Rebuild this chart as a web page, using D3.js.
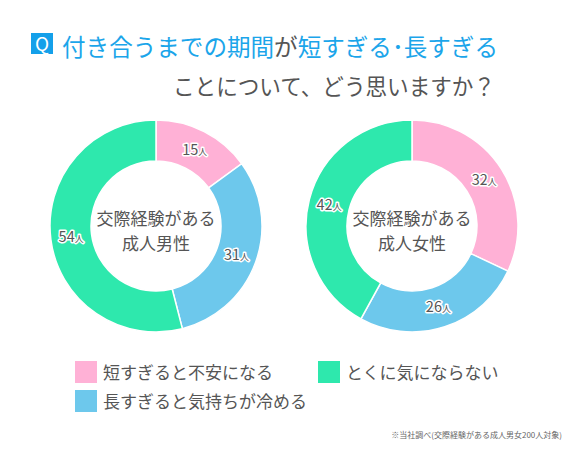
<!DOCTYPE html>
<html><head><meta charset="utf-8">
<script src="https://cdn.jsdelivr.net/npm/d3@7"></script>
<style>body{margin:0;background:#fff}svg{display:block}text{font-family:"Noto Sans CJK JP","Noto Sans",sans-serif}</style>
</head><body>
<svg id="c" width="569" height="450"></svg>
<script>
const categories = ["短すぎると不安になる","長すぎると気持ちが冷める","とくに気にならない"];
const colors = ["#FFB1D6","#6DC8EC","#2EE8AD"];
const maleValues = [15,31,54];
const femaleValues = [32,26,42];
const centerLabels = [["交際経験がある","成人男性"],["交際経験がある","成人女性"]];
const unit = "人";

const svg = d3.select("#c");
const gray = "#555";

// Title
svg.append("rect").attr("x",31).attr("y",33).attr("width",22).attr("height",21).attr("fill","#14A0EA");
svg.append("text").attr("x",42).attr("y",50.5).attr("text-anchor","middle").attr("fill","#fff")
  .attr("font-size",19).text("Q");
const t1 = svg.append("text").attr("x",62).attr("y",56).attr("font-size",23.5)
  .attr("textLength",436).attr("lengthAdjust","spacingAndGlyphs");
t1.append("tspan").attr("fill","#1BA5EA").text("付き合うまでの期間");
t1.append("tspan").attr("fill",gray).text("が");
t1.append("tspan").attr("fill","#1BA5EA").text("短すぎる･長すぎる");
svg.append("text").attr("x",173).attr("y",95).attr("font-size",22.5)
  .attr("textLength",322).attr("lengthAdjust","spacingAndGlyphs")
  .attr("fill",gray).text("ことについて、どう思いますか？");

const pie = d3.pie().sort(null).value(d=>d);
const arc = d3.arc().innerRadius(65).outerRadius(106);

function donut(cx, cy, values, lbl){
  const g = svg.append("g").attr("transform",`translate(${cx},${cy})`);
  const arcs = pie(values);
  g.selectAll("path").data(arcs).join("path")
    .attr("d",arc).attr("fill",(d,i)=>colors[i]).attr("stroke","#fff").attr("stroke-width",1.5);
  const lab = g.selectAll("text.v").data(arcs).join("text").attr("class","v")
    .attr("transform",d=>{const c=arc.centroid(d);return `translate(${c[0]},${c[1]+5})`;})
    .attr("text-anchor","middle").attr("fill",gray)
    .attr("stroke","#fff").attr("stroke-width",3).attr("paint-order","stroke").attr("stroke-linejoin","round");
  lab.append("tspan").attr("font-size",14.5).text(d=>d.data);
  lab.append("tspan").attr("font-size",9).text(unit);
  g.append("text").attr("y",-1).attr("text-anchor","middle").attr("font-size",17).attr("fill",gray).text(lbl[0]);
  g.append("text").attr("y",24).attr("text-anchor","middle").attr("font-size",17).attr("fill",gray).text(lbl[1]);
}
donut(156,226,maleValues,centerLabels[0]);
donut(412,226,femaleValues,centerLabels[1]);

// Legend
const legendPos = [[75,361],[75,390],[318,361]];
categories.forEach((c,i)=>{
  const [x,y]=legendPos[i];
  svg.append("rect").attr("x",x).attr("y",y).attr("width",22).attr("height",22).attr("fill",colors[i]);
  svg.append("text").attr("x",x+28).attr("y",y+17.5).attr("font-size",17).attr("fill",gray).text(c);
});

svg.append("text").attr("x",562).attr("y",438).attr("font-size",8).attr("text-anchor","end")
  .attr("fill","#666").text("※当社調べ(交際経験がある成人男女200人対象)");
</script>
</body></html>
